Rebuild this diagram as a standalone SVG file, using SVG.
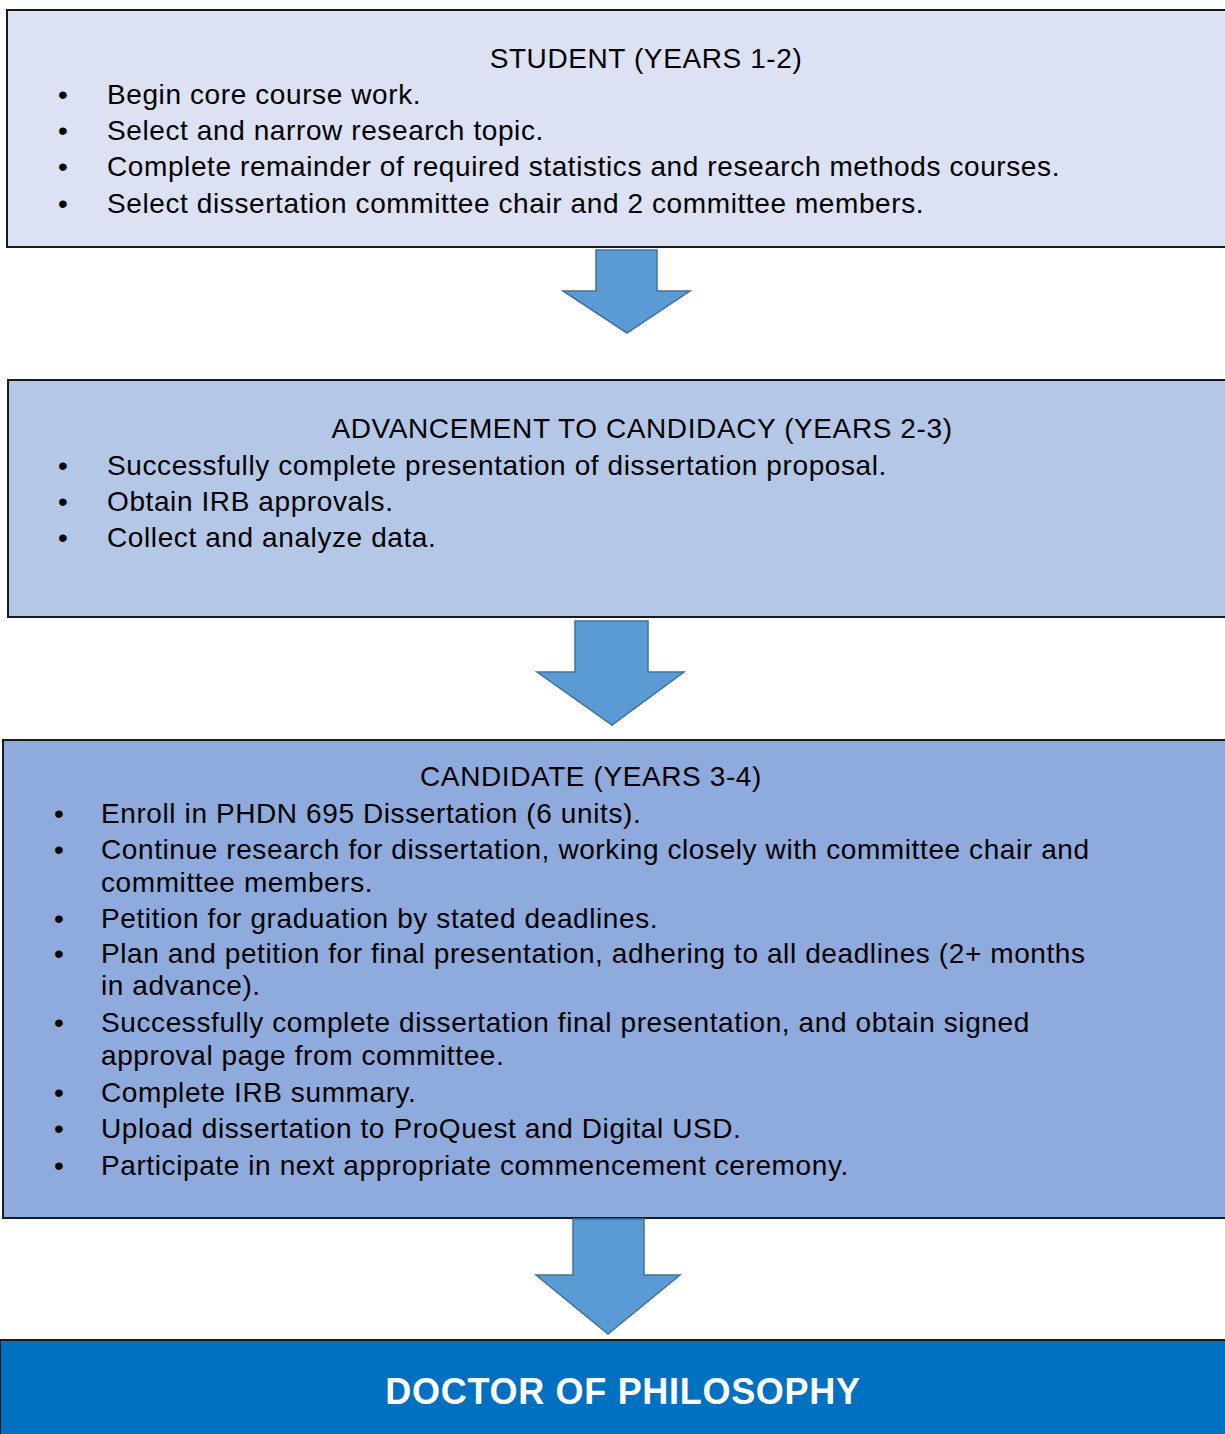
<svg xmlns="http://www.w3.org/2000/svg" width="1225" height="1434" viewBox="0 0 1225 1434">
<style>
.box{stroke:#1a1a1a;stroke-width:2}
.t{font-family:"Liberation Sans",Arial,sans-serif;font-size:28px;letter-spacing:0.6px;fill:#000}
.h{text-anchor:middle}
.arr{fill:#5b9bd5;stroke:#41719c;stroke-width:1.5;stroke-linejoin:miter}
.final{font-family:"Liberation Sans",Arial,sans-serif;font-size:36px;letter-spacing:0.7px;font-weight:bold;fill:#fff;text-anchor:middle}
</style>
<rect width="1225" height="1434" fill="#fff"/>
<g id="student">
<rect class="box" x="7" y="10" width="1230" height="237" fill="#dce1f3"/>
<text class="t h" x="646" y="68">STUDENT (YEARS 1-2)</text>
<text class="t" x="58" y="104">•</text><text class="t" x="107" y="104">Begin core course work.</text>
<text class="t" x="58" y="140">•</text><text class="t" x="107" y="140">Select and narrow research topic.</text>
<text class="t" x="58" y="176">•</text><text class="t" x="107" y="176">Complete remainder of required statistics and research methods courses.</text>
<text class="t" x="58" y="213">•</text><text class="t" x="107" y="213">Select dissertation committee chair and 2 committee members.</text>
</g>
<g id="advancement">
<rect class="box" x="8" y="380" width="1230" height="237" fill="#b4c7e7"/>
<text class="t h" x="642" y="438">ADVANCEMENT TO CANDIDACY (YEARS 2-3)</text>
<text class="t" x="58" y="475">•</text><text class="t" x="107" y="475">Successfully complete presentation of dissertation proposal.</text>
<text class="t" x="58" y="511">•</text><text class="t" x="107" y="511">Obtain IRB approvals.</text>
<text class="t" x="58" y="547">•</text><text class="t" x="107" y="547">Collect and analyze data.</text>
</g>
<g id="candidate">
<rect class="box" x="3" y="740" width="1235" height="478" fill="#8faadc"/>
<text class="t h" x="591" y="786">CANDIDATE (YEARS 3-4)</text>
<text class="t" x="54" y="823">•</text><text class="t" x="101" y="823">Enroll in PHDN 695 Dissertation (6 units).</text>
<text class="t" x="54" y="859">•</text><text class="t" x="101" y="859">Continue research for dissertation, working closely with committee chair and</text>
<text class="t" x="101" y="892">committee members.</text>
<text class="t" x="54" y="928">•</text><text class="t" x="101" y="928">Petition for graduation by stated deadlines.</text>
<text class="t" x="54" y="963">•</text><text class="t" x="101" y="963">Plan and petition for final presentation, adhering to all deadlines (2+ months</text>
<text class="t" x="101" y="995">in advance).</text>
<text class="t" x="54" y="1032">•</text><text class="t" x="101" y="1032">Successfully complete dissertation final presentation, and obtain signed</text>
<text class="t" x="101" y="1065">approval page from committee.</text>
<text class="t" x="54" y="1102">•</text><text class="t" x="101" y="1102">Complete IRB summary.</text>
<text class="t" x="54" y="1138">•</text><text class="t" x="101" y="1138">Upload dissertation to ProQuest and Digital USD.</text>
<text class="t" x="54" y="1175">•</text><text class="t" x="101" y="1175">Participate in next appropriate commencement ceremony.</text>
</g>
<g id="doctorate">
<rect class="box" x="0" y="1340" width="1240" height="110" fill="#0070c0"/>
<text class="final" x="623" y="1404">DOCTOR OF PHILOSOPHY</text>
</g>
<g id="connectors">
<polygon class="arr" points="596,250 657,250 657,291 690,291 627,333 563,291 596,291"/>
<polygon class="arr" points="575,621 648,621 648,672 684,672 612,725 537,672 575,672"/>
<polygon class="arr" points="573,1219 644,1219 644,1275 680,1275 608,1334 536,1275 573,1275"/>
</g>
</svg>
